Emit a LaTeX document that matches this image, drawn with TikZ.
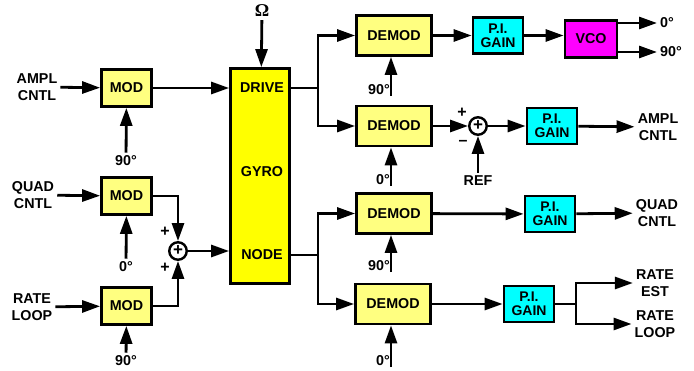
\documentclass[tikz,border=0pt]{standalone}
\usepackage{fontspec}
\setmainfont{Liberation Sans}
\usetikzlibrary{arrows.meta}
\definecolor{lightyel}{HTML}{FFFF80}
\definecolor{gyroyel}{HTML}{FFFF00}
\definecolor{picyan}{HTML}{00FFFF}
\definecolor{vcomag}{HTML}{FF00FF}

\begin{document}
\begin{tikzpicture}[
  x=1pt, y=-1pt,
  font=\bfseries\fontsize{14.3}{16.5}\selectfont,
  blk/.style={rectangle, draw, line width=2.8pt, inner sep=0pt, align=center},
  modbox/.style={blk, fill=lightyel, minimum width=50pt, minimum height=37pt},
  demodbox/.style={blk, fill=lightyel, minimum width=75pt, minimum height=40pt},
  pibox/.style={blk, fill=picyan, minimum width=50pt, minimum height=36pt, font=\bfseries\fontsize{14}{14}\selectfont},
  vcobox/.style={blk, fill=vcomag, minimum width=52pt, minimum height=37pt},
  gyrobox/.style={blk, fill=gyroyel, minimum width=59pt, minimum height=215pt},
  sumnode/.style={circle, draw, line width=2.4pt, minimum size=17.5pt, inner sep=0pt, font=\bfseries\fontsize{17}{17}\selectfont},
  lbl/.style={align=center, inner sep=3pt},
  sgn/.style={inner sep=0pt, font=\bfseries\fontsize{16}{16}\selectfont},
  arr/.style={-{Triangle[length=18pt, width=12pt]}, line width=2.8pt},
  wire/.style={line width=2.8pt}
]
\useasboundingbox (0,0) rectangle (694,370);

\node[lbl] (amplin) at (37,87) {AMPL\\CNTL};
\node[modbox] (mod1) at (126.5,88) {MOD};
\node[lbl] (ph1) at (126,161) {90°};
\node[lbl] (quadin) at (33,195) {QUAD\\CNTL};
\node[modbox] (mod2) at (126.5,196) {MOD};
\node[lbl] (ph2) at (126,267) {0°};
\node[lbl] (ratein) at (32,307) {RATE\\LOOP};
\node[modbox] (mod3) at (126.5,306) {MOD};
\node[lbl] (ph3) at (126,361) {90°};
\node[sumnode] (sum1) at (178,251) {+};
\node[sgn] (s1a) at (165,232) {+};
\node[sgn] (s1b) at (165,268) {+};

\node[gyrobox] (gyro) at (260,176) {};
\node[lbl] (drive) at (262,88) {DRIVE};
\node[lbl] (gyrolbl) at (262,172) {GYRO};
\node[lbl] (nodelbl) at (262,255) {NODE};
\node[lbl, font=\fontspec{Liberation Serif}\bfseries\fontsize{18}{18}\selectfont] (omega) at (262,11) {Ω};
\coordinate (dsplit) at (318,88);
\coordinate (nsplit) at (318,255);

\node[demodbox] (demod1) at (394,35.5) {DEMOD};
\node[pibox] (pi1) at (498,35.5) {P.I.\\GAIN};
\node[vcobox] (vco) at (591,39) {VCO};
\node[lbl, anchor=west] (vco0) at (657,23) {0°};
\node[lbl, anchor=west] (vco90) at (657,52) {90°};
\coordinate (d1in) at (391,96);
\node[lbl, anchor=south east, inner sep=1pt] (d1ph) at (d1in) {90°};

\node[demodbox] (demod2) at (394,126) {DEMOD};
\node[sumnode] (sum2) at (478,126) {+};
\node[sgn] (s2a) at (462,113) {+};
\node[sgn] (s2b) at (463,143) {–};
\node[lbl] (ref) at (478,181) {REF};
\node[pibox] (pi2) at (552,126) {P.I.\\GAIN};
\node[lbl] (amplout) at (658,127) {AMPL\\CNTL};
\coordinate (d2in) at (391,186);
\node[lbl, anchor=south east, inner sep=1pt] (d2ph) at (d2in) {0°};

\node[demodbox] (demod3) at (394,213.5) {DEMOD};
\node[pibox] (pi3) at (550,214) {P.I.\\GAIN};
\node[lbl] (quadout) at (657,213) {QUAD\\CNTL};
\coordinate (d3in) at (391,272);
\node[lbl, anchor=south east, inner sep=1pt] (d3ph) at (d3in) {90°};

\node[demodbox] (demod4) at (393,304) {DEMOD};
\node[pibox] (pi4) at (529,304) {P.I.\\GAIN};
\coordinate (rsplit) at (576,304);
\node[lbl] (rateest) at (655,283) {RATE\\EST};
\node[lbl] (rateloop) at (655,324) {RATE\\LOOP};
\coordinate (d4in) at (391,367);
\node[lbl, anchor=south east, inner sep=1pt] (d4ph) at (d4in) {0°};

\draw[arr] (amplin) -- (mod1);
\draw[arr] (quadin) -- (mod2);
\draw[arr] (ratein) -- (mod3);
\draw[arr] (ph1) -- (mod1);
\draw[arr] (ph2) -- (mod2);
\draw[arr] (ph3) -- (mod3);
\draw[arr] (mod2) -| (sum1);
\draw[arr] (mod3) -| (sum1);
\draw[arr] (mod1) -- (gyro.west |- mod1);
\draw[arr] (sum1) -- (gyro.west |- sum1);
\draw[arr] (omega) -- (gyro);

\draw[wire] (gyro.east |- drive) -- (dsplit);
\draw[arr] (dsplit) |- (demod1);
\draw[arr] (dsplit) |- (demod2);
\draw[wire] (gyro.east |- nodelbl) -- (nsplit);
\draw[arr] (nsplit) |- (demod3);
\draw[arr] (nsplit) |- (demod4);

\draw[arr] (demod1) -- (pi1);
\draw[arr] (pi1) -- (vco.west |- pi1);
\draw[arr] (vco.east |- vco0) -- (vco0);
\draw[arr] (vco.east |- vco90) -- (vco90);
\draw[arr] (d1in) -- (d1in |- demod1.south);

\draw[arr] (demod2) -- (sum2);
\draw[arr] (ref) -- (sum2);
\draw[arr] (sum2) -- (pi2);
\draw[arr] (pi2) -- (amplout);
\draw[arr] (d2in) -- (d2in |- demod2.south);

\draw[arr] (demod3) -- (pi3);
\draw[arr] (pi3) -- (quadout);
\draw[arr] (d3in) -- (d3in |- demod3.south);

\draw[arr] (demod4) -- (pi4);
\draw[wire] (pi4) -- (rsplit);
\draw[arr] (rsplit) |- (rateest);
\draw[arr] (rsplit) |- (rateloop);
\draw[arr] (d4in) -- (d4in |- demod4.south);
\end{tikzpicture}
\end{document}
